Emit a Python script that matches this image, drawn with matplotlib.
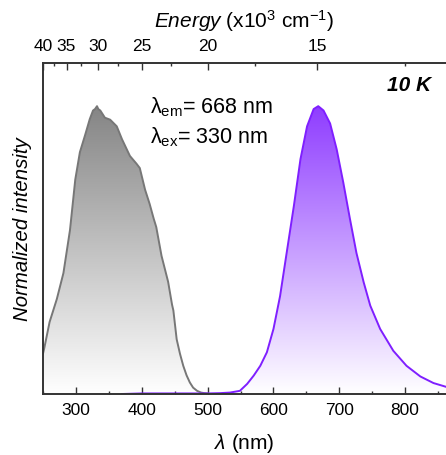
import numpy as np
import matplotlib
matplotlib.use("Agg")
import matplotlib.pyplot as plt
from matplotlib.colors import LinearSegmentedColormap

plt.rcParams['font.family'] = ['Liberation Sans', 'DejaVu Sans']
plt.rcParams['mathtext.fontset'] = 'custom'
plt.rcParams['mathtext.rm'] = 'Liberation Sans'
plt.rcParams['mathtext.it'] = 'Liberation Sans:italic'
plt.rcParams['mathtext.bf'] = 'Liberation Sans:bold'

# excitation spectrum (grey), lambda_em = 668 nm
ex_wl = [250, 252, 260, 271, 281, 291, 299, 306, 314, 321, 326, 329, 332, 334, 337,
         344, 352, 362, 370, 382, 392, 397, 405, 412, 418, 422, 430, 440, 446, 448,
         450, 453, 458, 463, 468, 473, 478, 484, 490, 495, 500]
ex_int = [0.14, 0.16, 0.25, 0.33, 0.42, 0.57, 0.745, 0.84, 0.90, 0.955, 0.985, 0.99, 1.0, 0.99, 0.985,
          0.96, 0.953, 0.93, 0.885, 0.827, 0.80, 0.785, 0.71, 0.66, 0.61, 0.58, 0.48, 0.39, 0.31, 0.29,
          0.25, 0.19, 0.14, 0.098, 0.065, 0.04, 0.022, 0.011, 0.005, 0.003, 0.002]

# emission spectrum (violet), lambda_ex = 330 nm
em_wl = [370, 400, 450, 500, 519, 534, 549, 560, 570, 580, 590, 600, 610, 620, 631,
         641, 651, 661, 668, 676, 686, 696, 706, 716, 726, 737, 747, 762, 782, 802,
         823, 843, 862]
em_int = [0.0, 0.002, 0.002, 0.002, 0.003, 0.005, 0.011, 0.035, 0.064, 0.098, 0.145, 0.226, 0.34, 0.49, 0.654,
          0.816, 0.93, 0.99, 1.0, 0.985, 0.94, 0.85, 0.735, 0.61, 0.49, 0.388, 0.307, 0.226, 0.15, 0.098,
          0.061, 0.038, 0.025]

energy_major = [40, 35, 30, 25, 20, 15]
energy_minor = [37.5, 32.5, 27.5, 22.5, 17.5, 12.5]


def gradient_fill(ax, x, y, color, line_color):
    x = np.asarray(x)
    y = np.asarray(y)
    poly = ax.fill_between(x, 0, y, facecolor='none', edgecolor='none')
    cmap = LinearSegmentedColormap.from_list('g', ['white', color])
    grad = np.linspace(0, 1, 256).reshape(-1, 1)
    im = ax.imshow(grad, aspect='auto', cmap=cmap, origin='lower',
                   extent=[x.min(), x.max(), 0, y.max()], zorder=1)
    im.set_clip_path(poly.get_paths()[0], transform=ax.transData)
    ax.plot(x, y, color=line_color, lw=1.4, zorder=2)


fig = plt.figure(figsize=(4.46, 4.56), dpi=100)
ax = fig.add_axes([43/446, 1-395/456, 1-43/446, (395-64)/456])

gradient_fill(ax, ex_wl, ex_int, '#858585', '#777777')
gradient_fill(ax, em_wl, em_int, '#8f3dff', '#7f1fff')

ax.set_xlim(250, 862)
ax.set_ylim(0, 1.15)
ax.set_xticks([300, 400, 500, 600, 700, 800])
ax.set_xticks(np.arange(250, 860, 50), minor=True)
ax.set_yticks([])
ax.tick_params(axis='x', which='major', direction='in', length=5, width=1, labelsize=12.5, pad=6, color='#333333')
ax.tick_params(axis='x', which='minor', direction='in', length=2.5, width=1, color='#333333')
ax.set_xlabel('$\\mathit{λ}$ (nm)', fontsize=15, labelpad=10)
ax.set_ylabel('Normalized intensity', fontsize=14.7, fontstyle='italic', labelpad=8)
for s in ['left', 'bottom', 'top']:
    ax.spines[s].set_linewidth(1.2)
    ax.spines[s].set_color('#333333')
ax.spines['right'].set_visible(False)

top = ax.twiny()
top.set_xlim(ax.get_xlim())
top.set_xticks([1e4/e for e in energy_major])
top.set_xticklabels([str(e) for e in energy_major])
top.set_xticks([1e4/e for e in energy_minor], minor=True)
top.tick_params(axis='x', which='major', direction='in', length=5, width=1, labelsize=12.5, pad=7, color='#333333')
top.tick_params(axis='x', which='minor', direction='in', length=2.5, width=1, color='#333333')
top.set_xlabel('$\\mathit{Energy}$ (x10$^3$ cm$^{-1}$)', fontsize=15, labelpad=8)
top.spines['right'].set_visible(False)
for s in ['left', 'bottom', 'top']:
    top.spines[s].set_linewidth(1.2)
    top.spines[s].set_color('#333333')

ax.text(412, 1.0, 'λ$_{\\rm em}$= 668 nm', fontsize=15.5, va='center', ha='left')
ax.text(412, 0.895, 'λ$_{\\rm ex}$= 330 nm', fontsize=15.5, va='center', ha='left')
ax.text(840, 1.075, '10 K', fontsize=15, fontweight='bold', fontstyle='italic', va='center', ha='right')

fig.savefig('out.png', dpi=100)
